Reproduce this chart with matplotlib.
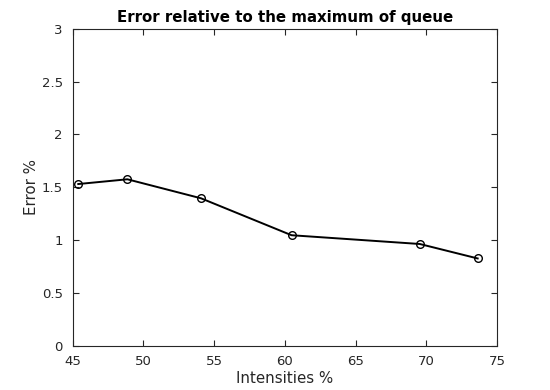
import matplotlib
matplotlib.use("Agg")
import matplotlib.pyplot as plt

intensities = [45.4, 48.87, 54.07, 60.47, 69.53, 73.62]
errors = [1.53, 1.575, 1.395, 1.045, 0.962, 0.825]

x_ticks = [45, 50, 55, 60, 65, 70, 75]
y_ticks = [0, 0.5, 1, 1.5, 2, 2.5, 3]
y_tick_labels = ["0", "0.5", "1", "1.5", "2", "2.5", "3"]

plt.rcParams["font.family"] = "DejaVu Sans"

fig = plt.figure(figsize=(5.5, 3.9), dpi=100)
ax = fig.add_axes([0.132, 0.114, 0.772, 0.812])

ax.plot(intensities, errors, color="black", linewidth=1.4,
        marker="o", markersize=5.5, markerfacecolor="none",
        markeredgecolor="black", markeredgewidth=1.0)

ax.set_xlim(45, 75)
ax.set_ylim(0, 3)
ax.set_xticks(x_ticks)
ax.set_yticks(y_ticks)
ax.set_yticklabels(y_tick_labels)

ax.tick_params(direction="in", top=True, right=True, length=4, width=0.8,
               labelsize=9.5, labelcolor="#262626", color="#262626")
ax.tick_params(axis="x", pad=7)
ax.tick_params(axis="y", pad=7)
for spine in ax.spines.values():
    spine.set_linewidth(0.8)
    spine.set_color("#262626")

ax.set_xlabel("Intensities %", fontsize=10.8, color="#262626", labelpad=2)
ax.set_ylabel("Error %", fontsize=10.8, color="#262626", labelpad=2)
ax.set_title("Error relative to the maximum of queue", fontsize=10.8,
             fontweight="bold", pad=5)

fig.savefig("out.png", dpi=100)
